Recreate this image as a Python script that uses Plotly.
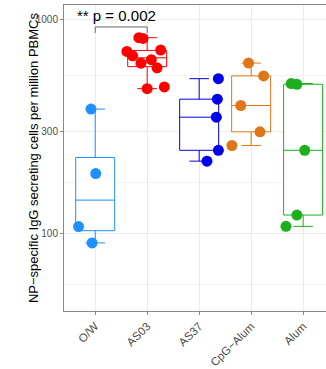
import numpy as np
import plotly.graph_objects as go

# Adjuvant groups, in plotting order
groups = ["O/W", "AS03", "AS37", "CpG\u2212Alum", "Alum"]

# NP-specific IgG secreting cells per million PBMCs, one list per group
ow = [382, 190.6, 107.7, 90.4]
as03 = [711, 678, 626, 650, 721, 596, 824, 818, 476, 485]
as37 = [530, 425, 350, 245, 218]
cpg_alum = [627, 546, 397, 299, 258]
alum = [503, 499, 245, 122, 108]

# horizontal jitter of each point (category units)
ow_jitter = [-0.08, 0.01, -0.32, -0.06]
as03_jitter = [-0.39, -0.28, -0.12, 0.08, 0.26, 0.19, -0.16, -0.08, 0.0, 0.33]
as37_jitter = [0.37, 0.35, 0.33, 0.37, 0.15]
cpg_alum_jitter = [-0.05, 0.24, -0.2, 0.17, -0.37]
alum_jitter = [-0.23, -0.12, 0.03, -0.12, -0.33]

colors = ["#1E90FF", "#FF0000", "#0000EE", "#E0761A", "#1CAF1C"]

# significance comparison between O/W and AS03
sig_text = "** p = 0.002"
sig_pair = (1, 2)
bracket_top = 925
bracket_bottom = 868

y_ticks = [100, 300, 1000]

series = [ow, as03, as37, cpg_alum, alum]
jitters = [ow_jitter, as03_jitter, as37_jitter, cpg_alum_jitter, alum_jitter]

fig = go.Figure()

for i, (vals, jit, col) in enumerate(zip(series, jitters, colors)):
    pos = i + 1
    logv = np.log10(np.asarray(vals, dtype=float))
    q1, med, q3 = np.percentile(logv, [25, 50, 75])
    fig.add_trace(go.Box(
        x=[pos],
        q1=[10 ** q1], median=[10 ** med], q3=[10 ** q3],
        lowerfence=[10 ** logv.min()], upperfence=[10 ** logv.max()],
        width=0.75,
        fillcolor="white",
        line=dict(color=col, width=1),
        boxpoints=False,
        hoverinfo="skip",
        showlegend=False,
    ))

for i, (vals, jit, col) in enumerate(zip(series, jitters, colors)):
    pos = i + 1
    fig.add_trace(go.Scatter(
        x=[pos + j for j in jit],
        y=vals,
        mode="markers",
        marker=dict(color=col, size=11, line=dict(width=0)),
        showlegend=False,
    ))

# significance bracket
a, b = sig_pair
for xs, ys in (([a, b], [bracket_top, bracket_top]),
               ([a, a], [bracket_bottom, bracket_top]),
               ([b, b], [bracket_bottom, bracket_top])):
    fig.add_shape(type="line", xref="x", yref="y",
                  x0=xs[0], x1=xs[1], y0=ys[0], y1=ys[1],
                  line=dict(color="#666666", width=1))

fig.add_annotation(
    text=sig_text, xref="paper", yref="paper",
    x=0.201, y=1, xanchor="center", yanchor="middle", yshift=-10,
    showarrow=False,
    font=dict(family="Liberation Sans, Arial", size=15, color="black"),
)

fig.add_annotation(
    text="NP\u2212specific IgG secreting cells per million PBMCs",
    xref="paper", yref="paper", x=-0.118, y=0.5,
    xanchor="center", yanchor="middle", textangle=-90,
    showarrow=False,
    font=dict(family="Liberation Sans, Arial", size=13, color="black"),
)

minor_vals = [y_ticks[0] / np.sqrt(y_ticks[1] / y_ticks[0])] + [
    float(np.sqrt(y_ticks[k] * y_ticks[k + 1])) for k in range(len(y_ticks) - 1)
]

fig.update_layout(
    width=326, height=369,
    margin=dict(l=64, r=0, t=5, b=52),
    paper_bgcolor="white", plot_bgcolor="white",
    font=dict(family="Liberation Sans, Arial", color="#4D4D4D"),
    xaxis=dict(
        range=[0.4, 5.44],
        tickmode="array", tickvals=list(range(1, len(groups) + 1)), ticktext=groups,
        tickangle=-45, tickfont=dict(size=11.5, color="#4D4D4D"),
        showgrid=True, gridcolor="#EBEBEB", gridwidth=1,
        showline=True, linecolor="#888888", linewidth=1, mirror=True,
        ticks="outside", ticklen=3, tickcolor="#888888",
        zeroline=False,
    ),
    yaxis=dict(
        type="log",
        range=[np.log10(43.4), np.log10(1172)],
        tickmode="array", tickvals=y_ticks, ticktext=[str(v) for v in y_ticks],
        tickfont=dict(size=10, color="#4D4D4D"),
        showgrid=True, gridcolor="#EBEBEB", gridwidth=1,
        minor=dict(tickmode="array", tickvals=minor_vals, showgrid=True,
                   gridcolor="#F2F2F2", gridwidth=0.6, ticks=""),
        showline=True, linecolor="#888888", linewidth=1,
        ticks="outside", ticklen=3, tickcolor="#888888",
        zeroline=False,
    ),
)

fig.write_html("out.html")
